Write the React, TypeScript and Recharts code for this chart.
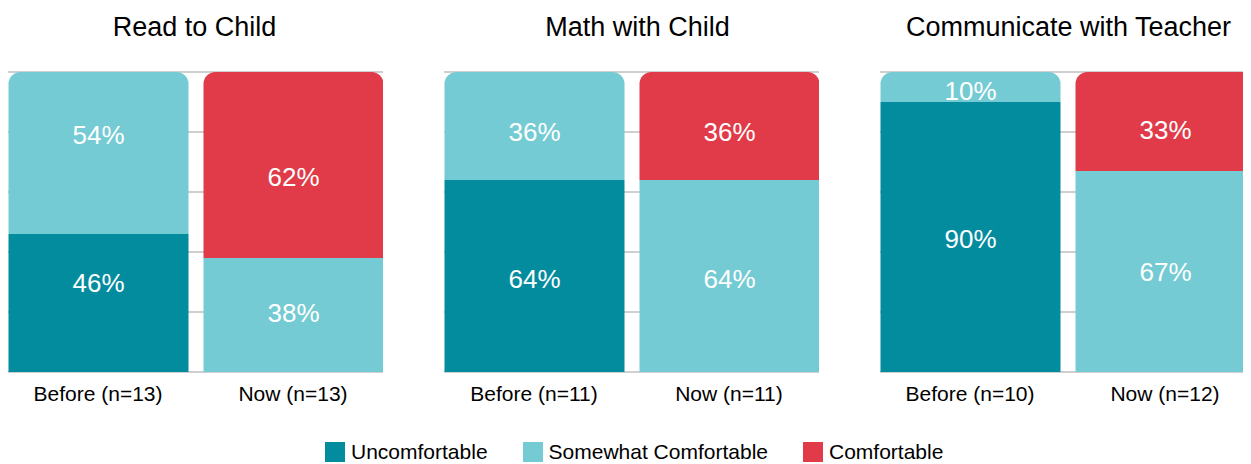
import { BarChart, Bar, XAxis, YAxis, CartesianGrid, Cell, LabelList } from 'recharts';

// three comfort questions, each asked before and now
const panelTitles = ['Read to Child', 'Math with Child', 'Communicate with Teacher'];
const periods = ['Before', 'Now'];
const sampleSizes = [
  [13, 13],
  [11, 11],
  [10, 12],
];

// percent of respondents per level, [before, now]
const uncomfortable: (number | null)[][] = [
  [46, null],
  [64, null],
  [90, null],
];
const somewhatComfortable: (number | null)[][] = [
  [54, 38],
  [36, 64],
  [10, 67],
];
const comfortable: (number | null)[][] = [
  [null, 62],
  [null, 36],
  [null, 33],
];

const levels = [
  { key: 'unc', name: 'Uncomfortable', color: '#038C9E' },
  { key: 'some', name: 'Somewhat Comfortable', color: '#74CBD3' },
  { key: 'comf', name: 'Comfortable', color: '#E13A48' },
];
const levelValues: Record<string, (number | null)[][]> = {
  unc: uncomfortable,
  some: somewhatComfortable,
  comf: comfortable,
};

// hand-placed label nudges (px, down is positive), per panel / period / level
const labelNudge: Record<string, number>[][] = [
  [{ unc: -20, some: -18 }, { some: -2, comf: 12 }],
  [{ unc: 3, some: 6 }, { some: 3, comf: 6 }],
  [{ unc: 2, some: 4 }, { some: 0, comf: 8 }],
];
const titleNudge = [-1, 6, 1];

const FONT = '"Liberation Sans", Arial, sans-serif';
const PANEL_STEP = 436;
const PANEL_W = 375;
const RADIUS = 12;

function buildRows(p: number) {
  return periods.map((period, i) => {
    const row: Record<string, any> = { name: `${period} (n=${sampleSizes[p][i]})` };
    levels.forEach((l) => {
      row[l.key] = levelValues[l.key][p][i];
    });
    return row;
  });
}

// the last non-empty level of a stack gets the rounded top
function topKey(row: Record<string, any>) {
  let key = '';
  levels.forEach((l) => {
    if (row[l.key] != null && row[l.key] > 0) key = l.key;
  });
  return key;
}

function Panel({ index }: { index: number }) {
  const rows = buildRows(index);
  return (
    <div style={{ position: 'absolute', left: index * PANEL_STEP, top: 0, width: PANEL_W }}>
      <div
        style={{
          position: 'absolute',
          top: 4,
          left: -40 + titleNudge[index],
          width: PANEL_W + 80,
          textAlign: 'center',
          fontFamily: FONT,
          fontSize: 27,
          lineHeight: '30px',
          color: '#000',
        }}
      >
        {panelTitles[index]}
      </div>
      <BarChart
        width={PANEL_W}
        height={404}
        data={rows}
        margin={{ top: 64, right: 0, bottom: 0, left: 0 }}
        style={{ overflow: 'visible' }}
      >
        <CartesianGrid vertical={false} stroke="#BFBFBF" strokeWidth={1.5} />
        <YAxis hide domain={[0, 100]} ticks={[0, 20, 40, 60, 80, 100]} width={0} />
        <XAxis
          dataKey="name"
          axisLine={false}
          tickLine={false}
          tickSize={0}
          tickMargin={14}
          height={40}
          padding={{ left: -7.5, right: -7.5 }}
          interval={0}
          tick={{ fill: '#000', fontSize: 21, fontFamily: FONT }}
        />
        {levels.map((l) => (
          <Bar
            key={l.key}
            dataKey={l.key}
            stackId="a"
            fill={l.color}
            barSize={180}
            isAnimationActive={false}
          >
            {rows.map((row, i) => (
              <Cell
                key={i}
                fill={l.color}
                radius={(topKey(row) === l.key ? [RADIUS, RADIUS, 0, 0] : 0) as any}
              />
            ))}
            <LabelList
              dataKey={l.key}
              content={(props: any) => {
                const { x, y, width, height, value } = props;
                if (value == null || value === 0) return null;
                const cx = Number(x) + Number(width) / 2;
                // empty segments are skipped, so pick the period from the bar position
                const period = cx < PANEL_W / 2 ? 0 : 1;
                const dy = labelNudge[index][period]?.[l.key] ?? 0;
                return (
                  <text
                    x={cx}
                    y={Number(y) + Number(height) / 2 + dy}
                    textAnchor="middle"
                    dominantBaseline="central"
                    fill="#fff"
                    fontSize={26}
                    fontFamily={FONT}
                  >
                    {`${value}%`}
                  </text>
                );
              }}
            />
          </Bar>
        ))}
      </BarChart>
    </div>
  );
}

function Legend() {
  return (
    <div
      style={{
        position: 'absolute',
        left: 317,
        top: 434,
        display: 'flex',
        alignItems: 'center',
        fontFamily: FONT,
        fontSize: 21,
        color: '#000',
        whiteSpace: 'nowrap',
      }}
    >
      {levels.map((l) => (
        <div key={l.key} style={{ display: 'flex', alignItems: 'center', marginRight: 35 }}>
          <span style={{ width: 20, height: 20, background: l.color, marginRight: 6 }} />
          <span style={{ lineHeight: '20px' }}>{l.name}</span>
        </div>
      ))}
    </div>
  );
}

export default function App() {
  return (
    <div style={{ position: 'relative', width: 1243, height: 456, overflow: 'hidden', background: '#fff' }}>
      {panelTitles.map((_, i) => (
        <Panel key={i} index={i} />
      ))}
      <Legend />
    </div>
  );
}
